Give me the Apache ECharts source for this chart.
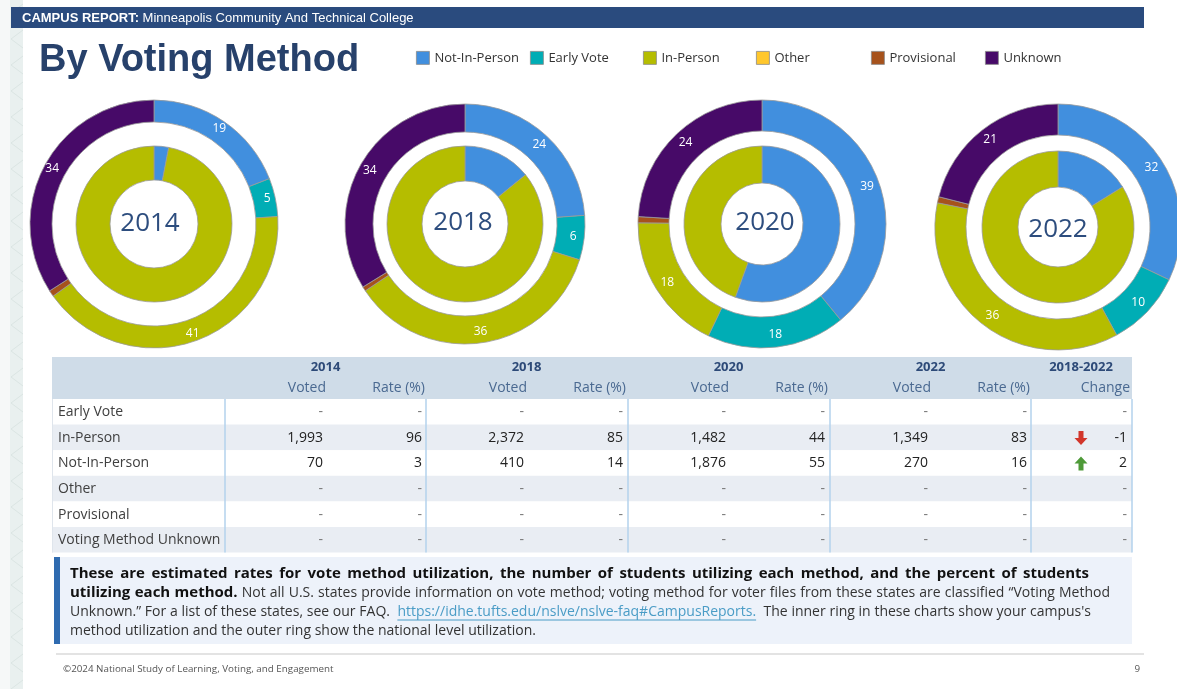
<!DOCTYPE html>
<html>
<head>
<meta charset="utf-8">
<title>By Voting Method</title>
<script src="https://cdn.jsdelivr.net/npm/echarts@6/dist/echarts.min.js"></script>
<style>
  html, body { margin: 0; padding: 0; background: #fff; }
  #chart { width: 1177px; height: 689px; }
</style>
</head>
<body>
<div id="chart"></div>
<script>
// slice / legend order, clockwise from 12 o'clock
var methodNames = ['Not-In-Person', 'Early Vote', 'In-Person', 'Other', 'Provisional', 'Unknown'];
var methodColors = ['#418fde', '#00adb5', '#b5bd00', '#ffc72c', '#a6521c', '#470a68'];

var years = ['2014', '2018', '2020', '2022'];

// outer ring = national utilization (%)
var national2014 = [19, 5, 41, 0, 0.8, 34];
var national2018 = [24, 6, 36, 0, 0.6, 34];
var national2020 = [39, 18, 18, 0, 0.8, 24];
var national2022 = [32, 10, 36, 0, 0.8, 21];

// inner ring = campus utilization (%)
var campus2014 = [3, 0, 96, 0, 0, 0];
var campus2018 = [14, 0, 85, 0, 0, 0];
var campus2020 = [55, 0, 44, 0, 0, 0];
var campus2022 = [16, 0, 83, 0, 0, 0];

// table
var tableRows = ['Early Vote', 'In-Person', 'Not-In-Person', 'Other', 'Provisional', 'Voting Method Unknown'];
var voted2014 = [null, 1993, 70, null, null, null];
var rate2014 = [null, 96, 3, null, null, null];
var voted2018 = [null, 2372, 410, null, null, null];
var rate2018 = [null, 85, 14, null, null, null];
var voted2020 = [null, 1482, 1876, null, null, null];
var rate2020 = [null, 44, 55, null, null, null];
var voted2022 = [null, 1349, 270, null, null, null];
var rate2022 = [null, 83, 16, null, null, null];
var change2018to2022 = [null, -1, 2, null, null, null];

var nationalByYear = [national2014, national2018, national2020, national2022];
var campusByYear = [campus2014, campus2018, campus2020, campus2022];
var votedByYear = [voted2014, voted2018, voted2020, voted2022];
var rateByYear = [rate2014, rate2018, rate2020, rate2022];

// layout
var pieCenters = [[154, 224], [465, 224], [762, 224], [1058, 227]];
var outerRadii = [[102, 124], [92, 120], [93, 124], [92, 123]];
var innerRadii = [[44, 78], [43, 78], [41, 78], [40, 76]];
var yearLabelPos = [[150, 224], [463, 223], [765, 223], [1058, 230]];
var legendLeft = [416, 530, 643, 756, 871, 985];

var FONT = 'Open Sans';
var myChart = echarts.init(document.getElementById('chart'));

var measureCtx = document.createElement('canvas').getContext('2d');
function textWidth(str, font) {
  measureCtx.font = font;
  return measureCtx.measureText(str).width;
}

function ringData(values, skipZero) {
  var out = [];
  methodNames.forEach(function (n, i) {
    if (skipZero && !(values[i] > 0)) return;
    out.push({
      name: n,
      value: values[i],
      itemStyle: { color: methodColors[i], borderWidth: values[i] > 0 ? 0.8 : 0 }
    });
  });
  return out;
}

var series = [];
years.forEach(function (y, k) {
  series.push({
    type: 'pie',
    name: 'National ' + y,
    center: pieCenters[k],
    radius: outerRadii[k],
    startAngle: 90,
    clockwise: true,
    avoidLabelOverlap: false,
    label: {
      show: true,
      position: 'inside',
      color: '#fff',
      fontFamily: FONT,
      fontSize: 12,
      formatter: function (p) { return p.value >= 1 ? String(p.value) : ''; }
    },
    labelLine: { show: false },
    itemStyle: { borderColor: '#9a9a9a', borderWidth: 0.8 },
    emphasis: { disabled: true },
    data: ringData(nationalByYear[k], false)
  });
  series.push({
    type: 'pie',
    name: 'Campus ' + y,
    center: pieCenters[k],
    radius: innerRadii[k],
    startAngle: 90,
    clockwise: true,
    label: { show: false },
    labelLine: { show: false },
    itemStyle: { borderColor: '#9a9a9a', borderWidth: 0.8 },
    emphasis: { disabled: true },
    data: ringData(campusByYear[k], true)
  });
});

var legends = methodNames.map(function (n, i) {
  return {
    data: [n],
    left: legendLeft[i],
    top: 51,
    padding: 0,
    icon: 'rect',
    itemWidth: 13,
    itemHeight: 13,
    selectedMode: false,
    itemStyle: { color: methodColors[i], borderColor: '#8a8a8a', borderWidth: 0.8 },
    textStyle: { fontFamily: FONT, fontSize: 13, color: '#333' }
  };
});

// ---------- page furniture (graphic) ----------
var g = [];

// left decorative strip
g.push({ type: 'rect', shape: { x: 0, y: 0, width: 10, height: 689 }, style: { fill: '#f6f8f8' } });
g.push({ type: 'rect', shape: { x: 10, y: 0, width: 13, height: 689 }, style: { fill: '#e9f0ef' } });
for (var cy = 4; cy < 689; cy += 26) {
  g.push({ type: 'polyline', shape: { points: [[23, cy], [11, cy + 9], [23, cy + 18]] },
    style: { stroke: '#dbe5e3', lineWidth: 1, fill: null } });
}

// header bar
g.push({ type: 'rect', shape: { x: 11, y: 7, width: 1133, height: 21 }, style: { fill: '#2a4b7e' } });
g.push({ type: 'text', x: 22, y: 18, style: {
  text: '{b|CAMPUS REPORT:} Minneapolis Community And Technical College',
  fill: '#fff', fontFamily: 'Liberation Sans', fontSize: 13, verticalAlign: 'middle',
  rich: { b: { fontFamily: 'Liberation Sans', fontSize: 13, fontWeight: 'bold', fill: '#fff' } }
} });

// title
g.push({ type: 'text', x: 39, y: 61, style: {
  text: 'By Voting Method', fill: '#27416b', fontFamily: 'Liberation Sans',
  fontSize: 38, fontWeight: 'bold', verticalAlign: 'middle'
} });

// year labels in the donut holes
years.forEach(function (y, k) {
  g.push({ type: 'text', x: yearLabelPos[k][0], y: yearLabelPos[k][1], z: 10, style: {
    text: y, fill: '#2d4d7e', fontFamily: FONT, fontSize: 26,
    align: 'center', verticalAlign: 'middle'
  } });
});

// ---------- table ----------
var tLeft = 52, tRight = 1132;
var blockLeft = [225, 426, 628, 830];
var changeLeft = 1031;
var headTop = 357, headBottom = 399, rowH = 25.6;
var tBottom = headBottom + rowH * tableRows.length;

g.push({ type: 'rect', shape: { x: tLeft, y: headTop, width: tRight - tLeft, height: headBottom - headTop },
  style: { fill: '#cfdce8' } });
tableRows.forEach(function (r, i) {
  var y0 = headBottom + i * rowH;
  g.push({ type: 'rect', shape: { x: tLeft, y: y0, width: tRight - tLeft, height: rowH },
    style: { fill: i % 2 === 1 ? '#e9edf3' : '#ffffff' } });
});
g.push({ type: 'line', shape: { x1: tLeft + 0.5, y1: headBottom, x2: tLeft + 0.5, y2: tBottom },
  style: { stroke: '#dfe5ec', lineWidth: 1 } });
blockLeft.concat([changeLeft, tRight]).forEach(function (x) {
  g.push({ type: 'line', shape: { x1: x, y1: headBottom, x2: x, y2: tBottom },
    style: { stroke: '#b3d2ec', lineWidth: 1.5 } });
});

function cellText(str, x, y, opt) {
  opt = opt || {};
  g.push({ type: 'text', x: x, y: y, style: {
    text: str, fill: opt.color || '#222', fontFamily: FONT, fontSize: opt.size || 14,
    fontWeight: opt.bold ? 'bold' : 'normal', align: opt.align || 'right', verticalAlign: 'middle'
  } });
}
function fmt(v) { return v === null ? '-' : v.toLocaleString('en-US'); }

years.forEach(function (y, k) {
  var bx = blockLeft[k];
  cellText(y, bx + 100.5, 367, { bold: true, align: 'center', color: '#2d4a78', size: 13 });
  cellText('Voted', bx + 101, 388, { color: '#4a6991' });
  cellText('Rate (%)', bx + 200, 388, { color: '#4a6991' });
});
cellText('2018-2022', changeLeft + 50, 367, { bold: true, align: 'center', color: '#2d4a78', size: 13 });
cellText('Change', 1130, 388, { color: '#4a6991' });

tableRows.forEach(function (r, i) {
  var cyRow = headBottom + i * rowH + rowH / 2 + 0.5;
  cellText(r, 58, cyRow, { align: 'left', color: '#404040' });
  years.forEach(function (y, k) {
    var v = votedByYear[k][i], rt = rateByYear[k][i];
    cellText(fmt(v), blockLeft[k] + 98, cyRow, { color: v === null ? '#777' : '#222' });
    cellText(fmt(rt), blockLeft[k] + 197, cyRow, { color: rt === null ? '#777' : '#222' });
  });
  var c = change2018to2022[i];
  cellText(c === null ? '-' : String(c), 1127, cyRow, { color: c === null ? '#777' : '#222' });
  if (c !== null && c !== 0) {
    var up = c > 0;
    var pts = up
      ? [[0, -7], [6.5, 0], [2.5, 0], [2.5, 7], [-2.5, 7], [-2.5, 0], [-6.5, 0]]
      : [[0, 7], [6.5, 0], [2.5, 0], [2.5, -7], [-2.5, -7], [-2.5, 0], [-6.5, 0]];
    g.push({ type: 'polygon', x: 1081, y: cyRow, shape: { points: pts },
      style: { fill: up ? '#4e9a38' : '#d2362b' } });
  }
});

// ---------- explanatory note ----------
g.push({ type: 'rect', shape: { x: 54, y: 557, width: 1078, height: 87 }, style: { fill: '#edf2fa' } });
g.push({ type: 'rect', shape: { x: 54, y: 557, width: 6, height: 87 }, style: { fill: '#2f6bb0' } });

var noteStyles = {
  b: { weight: 'bold', size: 15, color: '#111' },
  n: { weight: 'normal', size: 14, color: '#333' },
  a: { weight: 'normal', size: 14, color: '#4a9cc6', underline: true }
};
var noteLines = [
  [['b', 'These are estimated rates for vote method utilization, the number of students utilizing each method, and the percent of students']],
  [['b', 'utilizing each method.'], ['n', ' Not all U.S. states provide information on vote method; voting method for voter files from these states are classified \u201cVoting Method']],
  [['n', 'Unknown.\u201d For a list of these states, see our FAQ.  '], ['a', 'https://idhe.tufts.edu/nslve/nslve-faq#CampusReports.'], ['n', '  The inner ring in these charts show your campus\'s']],
  [['n', 'method utilization and the outer ring show the national level utilization.']]
];
// right edge of each line (justified lines), null = natural width
var noteLineEnds = [1089, 1110, 1091, null];

function fontOf(st) { return st.weight + ' ' + st.size + 'px "' + FONT + '"'; }

noteLines.forEach(function (line, li) {
  var tokens = [];
  line.forEach(function (seg) {
    seg[1].split(/( +)/).forEach(function (t) {
      if (!t) return;
      var st = noteStyles[seg[0]];
      tokens.push({ text: t, st: st, space: /^ +$/.test(t), w: textWidth(t, fontOf(st)) });
    });
  });
  var natural = 0, spaces = 0;
  tokens.forEach(function (t) { natural += t.w; if (t.space) spaces += t.text.length; });
  var x0 = 70, y = 574 + li * 19;
  var extra = noteLineEnds[li] !== null && spaces > 0 ? Math.max(0, (noteLineEnds[li] - x0 - natural) / spaces) : 0;
  var x = x0;
  tokens.forEach(function (t) {
    if (t.space) {
      if (t.st.underline) {
        g.push({ type: 'line', shape: { x1: x, y1: y + 8, x2: x + t.w + extra * t.text.length, y2: y + 8 },
          style: { stroke: t.st.color, lineWidth: 1 } });
      }
      x += t.w + extra * t.text.length;
      return;
    }
    g.push({ type: 'text', x: x, y: y, style: {
      text: t.text, fill: t.st.color, fontFamily: FONT, fontSize: t.st.size,
      fontWeight: t.st.weight, verticalAlign: 'middle'
    } });
    if (t.st.underline) {
      g.push({ type: 'line', shape: { x1: x, y1: y + 8, x2: x + t.w, y2: y + 8 },
        style: { stroke: t.st.color, lineWidth: 1 } });
    }
    x += t.w;
  });
});

// ---------- footer ----------
g.push({ type: 'line', shape: { x1: 56, y1: 654, x2: 1144, y2: 654 }, style: { stroke: '#e3e3e3', lineWidth: 2 } });
g.push({ type: 'text', x: 63, y: 669, style: {
  text: '\u00a92024 National Study of Learning, Voting, and Engagement',
  fill: '#555', fontFamily: FONT, fontSize: 9.8, verticalAlign: 'middle'
} });
g.push({ type: 'text', x: 1140, y: 669, style: {
  text: '9', fill: '#555', fontFamily: FONT, fontSize: 9.8, align: 'right', verticalAlign: 'middle'
} });

var option = {
  animation: false,
  backgroundColor: '#ffffff',
  legend: legends,
  graphic: { elements: g },
  series: series
};

myChart.setOption(option);
</script>
</body>
</html>
